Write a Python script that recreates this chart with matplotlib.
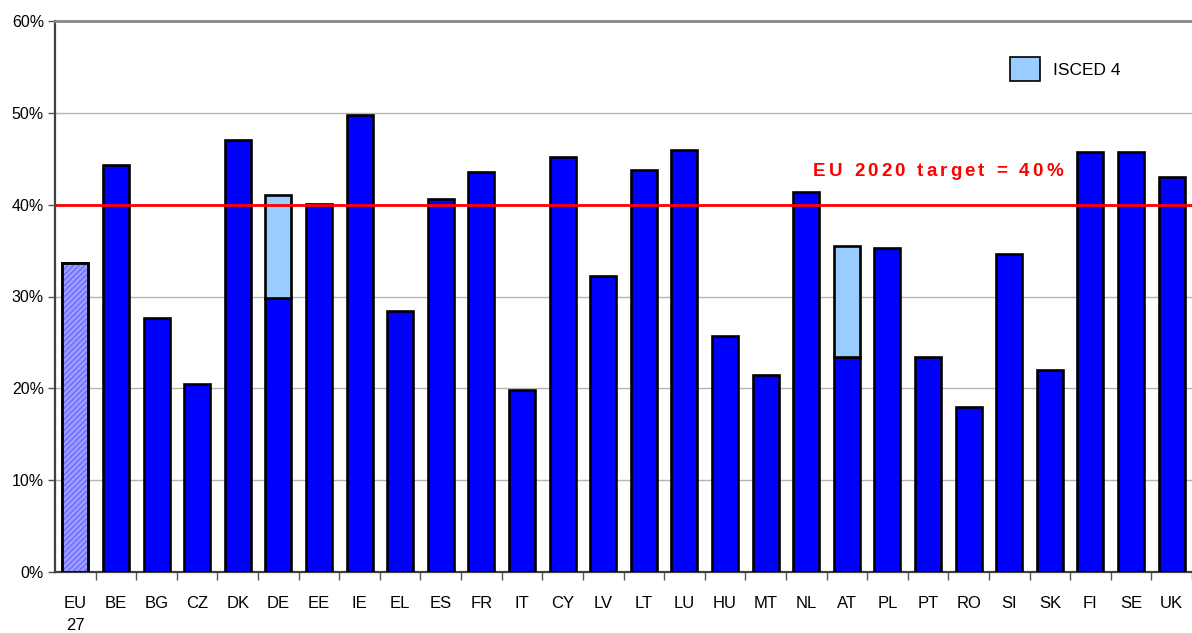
import matplotlib
matplotlib.use("Agg")
import matplotlib.pyplot as plt
import numpy as np
from matplotlib.patches import Patch
from matplotlib.ticker import FixedLocator, PercentFormatter

plt.rcParams['font.family'] = ['Liberation Sans', 'DejaVu Sans']

countries = ["EU\n27", "BE", "BG", "CZ", "DK", "DE", "EE", "IE", "EL", "ES", "FR", "IT",
             "CY", "LV", "LT", "LU", "HU", "MT", "NL", "AT", "PL", "PT", "RO", "SI",
             "SK", "FI", "SE", "UK"]
tertiary = [33.6, 44.3, 27.7, 20.5, 47.0, 29.8, 40.1, 49.8, 28.4, 40.6, 43.6, 19.8,
            45.2, 32.2, 43.8, 46.0, 25.7, 21.5, 41.4, 23.4, 35.3, 23.4, 18.0, 34.6,
            22.0, 45.7, 45.7, 43.0]
isced4 = [0, 0, 0, 0, 0, 11.2, 0, 0, 0, 0, 0, 0,
          0, 0, 0, 0, 0, 0, 0, 12.1, 0, 0, 0, 0,
          0, 0, 0, 0]
target = 40
yticks = [0, 10, 20, 30, 40, 50, 60]

W, H = 1192, 633
fig = plt.figure(figsize=(W / 100, H / 100), dpi=100)
ax = fig.add_axes([55 / W, 1 - 572 / H, (1192 - 55) / W, (572 - 21) / H])

x = np.arange(len(countries))
bw = 0.64
colors = ['#9f9fff' if i == 0 else '#0000ff' for i in range(len(x))]
elw = 1.9

ax.bar(x, tertiary, width=bw, color=colors, edgecolor='black', linewidth=elw, zorder=3)
# hatch for EU27
ax.bar(x[:1], tertiary[:1], width=bw, color='none', edgecolor='#6a6aff', hatch='//////',
       linewidth=0, zorder=3.5)
ax.bar(x[:1], tertiary[:1], width=bw, color='none', edgecolor='black', linewidth=elw, zorder=3.6)
# ISCED 4 stacked
mask = np.array(isced4) > 0
ax.bar(x[mask], np.array(isced4)[mask], bottom=np.array(tertiary)[mask], width=bw,
       color='#99ccff', edgecolor='black', linewidth=elw, zorder=3)

ax.axhline(target, color='#ff0000', linewidth=2, zorder=5)

ax.set_xlim(-0.5, len(x) - 0.5)
ax.set_ylim(0, 60)
ax.yaxis.set_major_locator(FixedLocator(yticks))
ax.yaxis.set_major_formatter(PercentFormatter(decimals=0))
ax.grid(axis='y', color='#b4b4b4', linewidth=1, zorder=0)
ax.set_axisbelow(True)

ax.set_xticks(x)
ax.set_xticklabels(countries, fontsize=12, va='top', linespacing=1.65)
ax.tick_params(axis='x', which='major', length=0, pad=17)
ax.set_xticks(np.arange(len(x)) + 0.5, minor=True)
ax.tick_params(axis='x', which='minor', length=6, width=1, color='#555555', direction='out')
ax.tick_params(axis='y', labelsize=11.5, length=5, width=1, color='#555555', pad=3)

for s in ['left', 'bottom']:
    ax.spines[s].set_color('#404040')
    ax.spines[s].set_linewidth(1.6)
ax.spines['top'].set_color('#888888')
ax.spines['top'].set_linewidth(2)
ax.spines['right'].set_visible(False)

# letter-spaced target label
label = "EU 2020 target = 40%"
fig.canvas.draw()
renderer = fig.canvas.get_renderer()
fs = 13.5
widths = []
for ch in label:
    t = fig.text(0, 0, ch if ch != ' ' else 'n', fontsize=fs, fontweight='bold')
    bb = t.get_window_extent(renderer)
    widths.append(bb.width * (0.5 if ch == ' ' else 1.0))
    t.remove()
x0, x1 = 813, 1063
spacing = ((x1 - x0) - sum(widths)) / (len(label) - 1)
xpix = x0
ypix = H - 171
for ch, w in zip(label, widths):
    if ch != ' ':
        fig.text(xpix / W, ypix / H, ch, fontsize=fs, fontweight='bold', color='#ff0000',
                 va='center', ha='left')
    xpix += w + spacing

# legend
handle = Patch(facecolor='#99ccff', edgecolor='black', linewidth=1.2)
ax.legend([handle], ["ISCED 4"], loc='center left', bbox_to_anchor=(1001 / W, 1 - 69 / H),
          bbox_transform=fig.transFigure, frameon=False, fontsize=12.5,
          handlelength=1.75, handleheight=1.75, handletextpad=0.75, borderpad=0)

fig.savefig("out.png", dpi=100)
